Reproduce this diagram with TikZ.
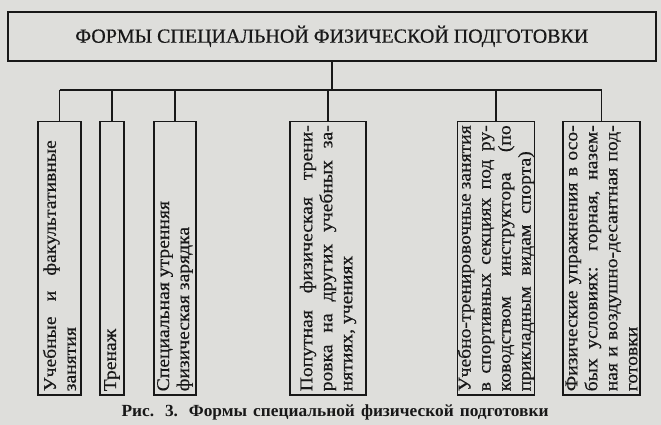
\documentclass[tikz,border=0pt]{standalone}
\usepackage{fontspec}
\setmainfont{Liberation Serif}
\newfontfamily\boxfont[FakeStretch=1.09,FakeBold=0.5]{Liberation Serif}
\newfontfamily\titlefont[FakeBold=0.5]{Liberation Serif}
\newfontfamily\capfont[FakeStretch=1.02]{Liberation Serif}
\definecolor{paper}{RGB}{222,222,219}
\definecolor{ink}{RGB}{24,24,24}
\newcommand{\sline}[2]{\makebox[#1][s]{#2}}
\newcommand{\vtext}[1]{\rotatebox{90}{\begin{minipage}{266pt}#1\end{minipage}}}
\begin{document}
\begin{tikzpicture}[x=1pt,y=-1pt,
  ln/.style={draw=ink,line width=1.3pt},
  bx/.style={draw=ink,line width=1.5pt,minimum height=273pt,anchor=north,inner sep=0pt,
    text=ink,font=\boxfont\fontsize{18}{20}\selectfont},
  ttl/.style={draw=ink,line width=1.7pt,minimum width=648pt,minimum height=49pt,anchor=north west,
    inner sep=0pt,text=ink,font=\titlefont\fontsize{20}{22}\selectfont}]
\fill[paper] (0,0) rectangle (661,425);
\useasboundingbox (0,0) rectangle (661,425);
\node[ttl] (title) at (7,11) {\raisebox{2pt}{ФОРМЫ СПЕЦИАЛЬНОЙ ФИЗИЧЕСКОЙ ПОДГОТОВКИ}};
\node[bx,minimum width=43pt] (b1) at (59.5,121) {\vtext{\sline{251pt}{Учебные и факультативные}\\занятия}};
\node[bx,minimum width=24pt] (b2) at (112,121) {\vtext{Тренаж}};
\node[bx,minimum width=42pt] (b3) at (175,121) {\vtext{Специальная утренняя\\физическая зарядка}};
\node[bx,minimum width=76pt] (b4) at (328,121) {\vtext{\sline{\linewidth}{Попутная физическая трени-}\\\sline{\linewidth}{ровка на других учебных за-}\\нятиях, учениях}};
\node[bx,minimum width=76pt] (b5) at (496,121) {\vtext{\sline{\linewidth}{Учебно-тренировочные занятия}\\\sline{\linewidth}{в спортивных секциях под ру-}\\\sline{\linewidth}{ководством инструктора (по}\\\sline{240pt}{прикладным видам спорта)}}};
\node[bx,minimum width=77pt] (b6) at (601.5,121) {\vtext{\sline{\linewidth}{Физические упражнения в осо-}\\\sline{\linewidth}{бых условиях: горная, назем-}\\\sline{\linewidth}{ная и воздушно-десантная под-}\\готовки}};
\coordinate (bar) at (0,90);
\draw[ln] (title.south) -- (title.south |- bar);
\draw[ln] (b1.north |- bar) -- (b6.north |- bar);
\foreach \b in {b1,b2,b3,b4,b5,b6} \draw[ln] (\b.north |- bar) -- (\b.north);
\node[text=ink,font=\capfont\bfseries\fontsize{17}{19}\selectfont] (cap) at (335,412) {\sline{427pt}{Рис. 3. Формы специальной физической подготовки}};
\end{tikzpicture}
\end{document}
